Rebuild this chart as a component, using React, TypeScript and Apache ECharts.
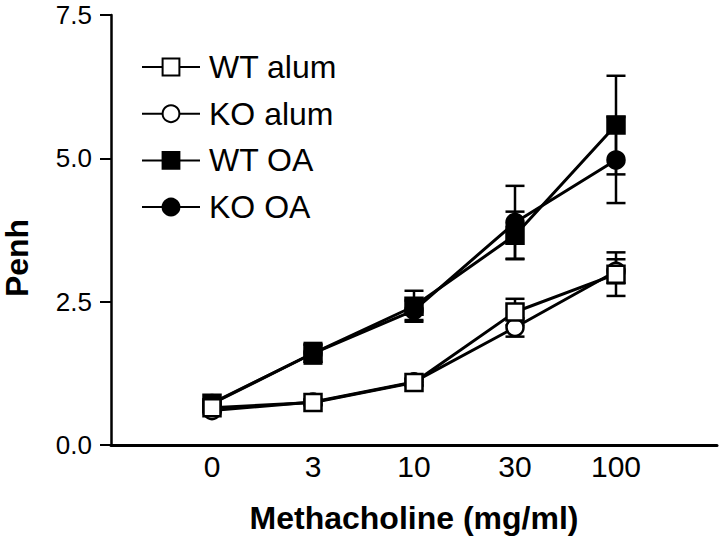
import React, { useEffect, useRef } from "react";
import * as echarts from "echarts";

const categories = ["0", "3", "10", "30", "100"];
const seriesNames = ["WT alum", "KO alum", "WT OA", "KO OA"];
const wtAlum = [0.65, 0.74, 1.09, 2.32, 2.98];
const koAlum = [0.6, 0.75, 1.1, 2.05, 3.03];
const wtOA = [0.73, 1.6, 2.42, 3.66, 5.58];
const koOA = [0.72, 1.6, 2.35, 3.88, 4.97];
const wtAlumErr = [0.05, 0.05, 0.06, 0.23, 0.38];
const koAlumErr = [0.05, 0.05, 0.06, 0.16, 0.21];
const wtOAErr = [0.05, 0.18, 0.27, 0.41, 0.86];
const koOAErr = [0.05, 0.15, 0.17, 0.64, 0.75];
const yTicks = [0, 2.5, 5, 7.5];

const FONT = "'Liberation Sans', Arial, Helvetica, sans-serif";

export default function App() {
  const ref = useRef<HTMLDivElement>(null);
  useEffect(() => {
    if (!ref.current) return;
    const chart = echarts.init(ref.current, null, { renderer: "svg" });
    const values = [wtAlum, koAlum, wtOA, koOA];
    const errs = [wtAlumErr, koAlumErr, wtOAErr, koOAErr];
    const symbols = ["rect", "circle", "rect", "circle"];
    const fills = ["#ffffff", "#ffffff", "#000000", "#000000"];
    const zs = [6, 5, 3, 4];

    const errSeries = values.map((vals, si) => ({
      type: "custom",
      z: 1,
      silent: true,
      data: vals.map((v, i) => [i, v - errs[si][i], v + errs[si][i]]),
      renderItem: (params: any, api: any) => {
        const x = api.value(0);
        const lo = api.coord([x, api.value(1)]);
        const hi = api.coord([x, api.value(2)]);
        const hw = 9.5;
        const style = { stroke: "#000", lineWidth: 2.5 };
        return {
          type: "group",
          children: [
            { type: "line", shape: { x1: lo[0], y1: lo[1], x2: hi[0], y2: hi[1] }, style },
            { type: "line", shape: { x1: lo[0] - hw, y1: lo[1], x2: lo[0] + hw, y2: lo[1] }, style },
            { type: "line", shape: { x1: hi[0] - hw, y1: hi[1], x2: hi[0] + hw, y2: hi[1] }, style },
          ],
        };
      },
    }));

    const lineSeries = values.map((vals, si) => ({
      name: seriesNames[si],
      type: "line",
      z: zs[si],
      data: vals.map((v, i) => [i, v]),
      symbol: symbols[si],
      symbolSize: 17,
      showAllSymbol: true,
      lineStyle: { color: "#000", width: 3 },
      itemStyle: { color: fills[si], borderColor: "#000", borderWidth: 2.5, opacity: 1 },
      emphasis: { disabled: true },
    }));

    chart.setOption({
      animation: false,
      backgroundColor: "#ffffff",
      grid: { left: 111, right: 0, top: 15, bottom: 94, containLabel: false },
      legend: {
        orient: "vertical",
        left: 141,
        top: 51,
        padding: 0,
        itemWidth: 58,
        itemHeight: 21,
        itemGap: 14.7,
        data: seriesNames,
        selectedMode: false,
        textStyle: { fontFamily: FONT, fontSize: 32, color: "#000", padding: [0, 0, 0, 4] },
      },
      xAxis: {
        type: "value",
        min: -1,
        max: 5,
        interval: 1,
        name: "Methacholine (mg/ml)",
        nameLocation: "middle",
        nameGap: 57,
        nameTextStyle: { fontFamily: FONT, fontSize: 32, fontWeight: "bold", color: "#000" },
        axisLine: { show: true, onZero: false, lineStyle: { color: "#000", width: 3 } },
        axisTick: { show: false },
        splitLine: { show: false },
        axisLabel: {
          margin: 6,
          fontFamily: FONT,
          fontSize: 30,
          color: "#000",
          formatter: (v: number) => (v >= 0 && v < categories.length && Number.isInteger(v) ? categories[v] : ""),
        },
      },
      yAxis: {
        type: "value",
        min: yTicks[0],
        max: yTicks[yTicks.length - 1],
        interval: 2.5,
        axisLine: { show: true, onZero: false, lineStyle: { color: "#000", width: 2.5 } },
        axisTick: { show: true, length: 11, lineStyle: { color: "#000", width: 2 } },
        splitLine: { show: false },
        axisLabel: {
          margin: 19,
          fontFamily: FONT,
          fontSize: 26,
          color: "#000",
          formatter: (v: number) => v.toFixed(1),
        },
      },
      graphic: [
        {
          type: "text",
          x: 17,
          y: 258,
          rotation: Math.PI / 2,
          style: {
            text: "Penh",
            fontFamily: FONT,
            fontSize: 32,
            fontWeight: "bold",
            fill: "#000",
            textAlign: "center",
            textVerticalAlign: "middle",
          },
        },
      ],
      series: [...errSeries, ...lineSeries],
    });
    return () => chart.dispose();
  }, []);
  return (
    <div
      ref={ref}
      style={{ position: "fixed", left: 0, top: 0, width: 720, height: 539, background: "#fff" }}
    />
  );
}
